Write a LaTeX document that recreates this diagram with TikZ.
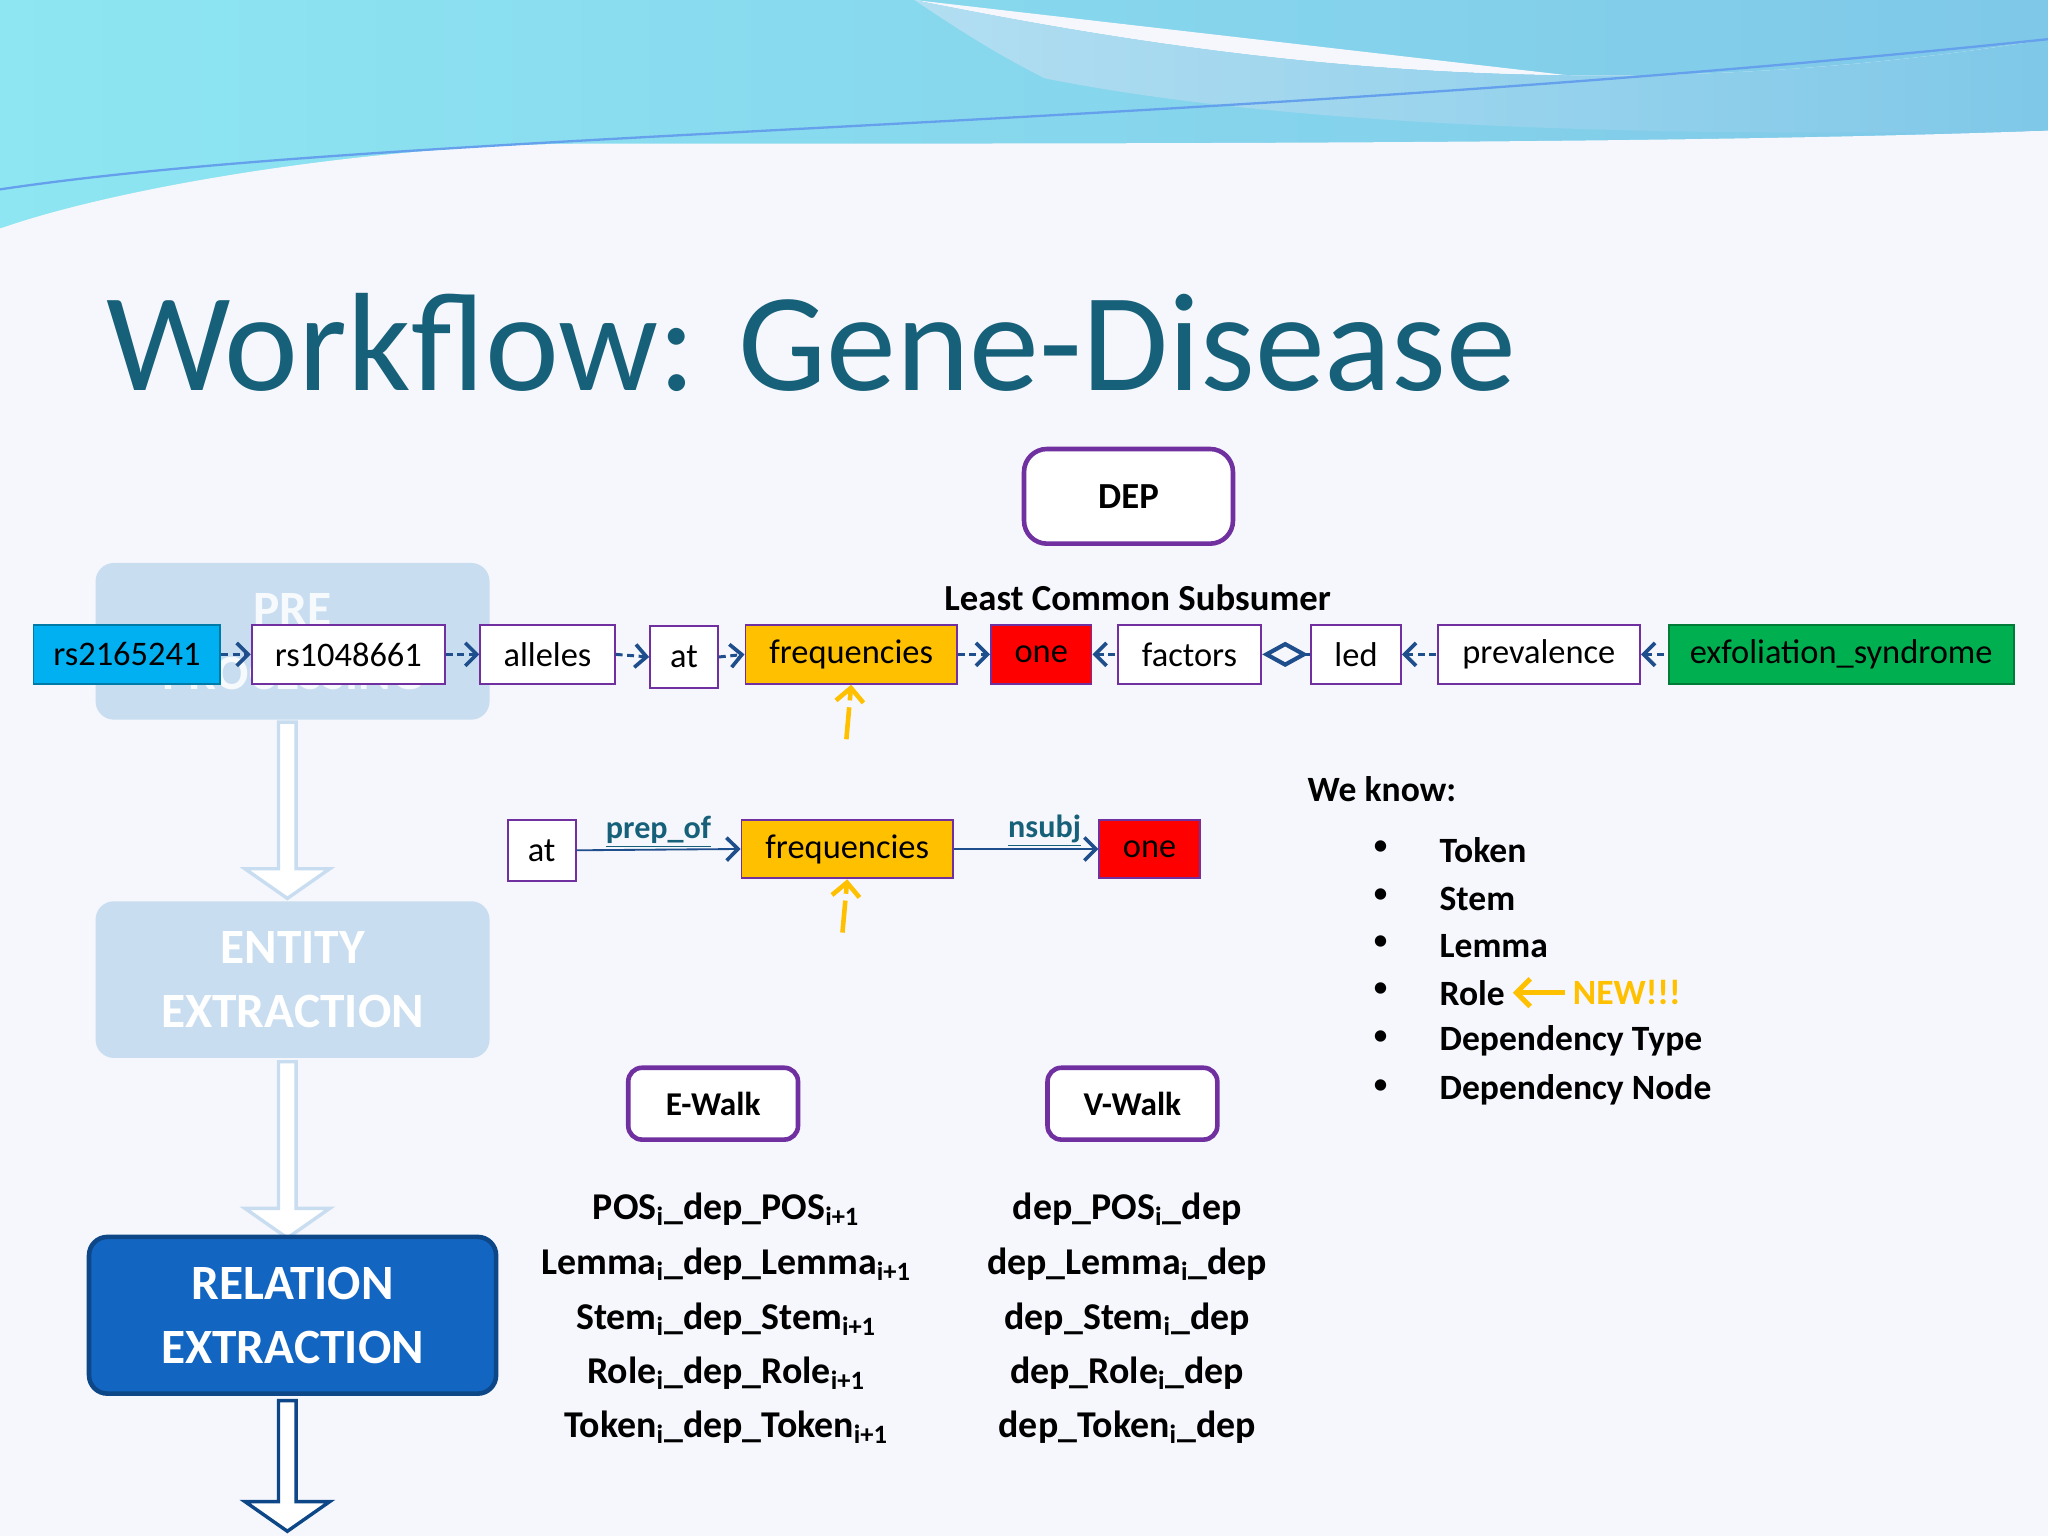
\documentclass[tikz,border=0pt]{standalone}
\usepackage{fontspec}
\setmainfont{Carlito}
\usetikzlibrary{arrows.meta,shapes.arrows}
\definecolor{ttl}{HTML}{17607A}
\definecolor{purp}{HTML}{7030A0}
\definecolor{arr}{HTML}{1F4E8C}
\definecolor{cy}{HTML}{00B0F0}
\definecolor{yel}{HTML}{FFC000}
\definecolor{gr}{HTML}{00B050}
\definecolor{faded}{HTML}{C9DDF0}
\definecolor{rel}{HTML}{1266C2}
\definecolor{wave1}{HTML}{8EE6F2}
\definecolor{wave2}{HTML}{7FC8E8}
\definecolor{bg}{HTML}{F6F7FC}
\begin{document}
\begin{tikzpicture}[x=0.02cm,y=-0.02cm,
  tok/.style={draw=purp,line width=0.8pt,fill=white,minimum height=0.9cm,inner sep=1pt,font=\fontsize{15}{16}\selectfont,anchor=west},
  lnk/.style={draw=arr,line width=1.3pt,dash pattern=on 3pt off 2pt,-{Straight Barb[length=5pt,width=10pt,line width=1.6pt]}},
  lnkb/.style={draw=arr,line width=1.3pt,dash pattern=on 3pt off 2pt,{Straight Barb[length=5pt,width=10pt,line width=1.6pt]}-},
  up/.style={draw=yel,line width=2pt,dash pattern=on 14pt off 3pt,-{Straight Barb[length=6pt,width=12pt]}},
  walk/.style={draw=purp,line width=2pt,rounded corners=6pt,fill=white,font=\bfseries\fontsize{14.5}{16}\selectfont},
  stage/.style={rounded corners=8pt,text width=5.8cm,align=center,font=\bfseries\fontsize{21.5}{28}\selectfont,text=white},
  hol/.style={single arrow,draw,line width=1.5pt,fill=white,shape border rotate=270,minimum width=1.3cm,single arrow head extend=0.1cm,single arrow tip angle=110,inner sep=0pt},
  bl/.style={font=\bfseries\fontsize{15.5}{17}\selectfont,anchor=west},
  fm/.style={font=\bfseries\fontsize{16.5}{18}\selectfont}]
\useasboundingbox (0,0) rectangle (1568,1176);
\fill[bg] (0,0) rectangle (1568,1176);
% top wave
\shade[left color=wave1,right color=wave2] (0,0) -- (1568,0) -- (1568,100) .. controls (1200,120) and (500,100) .. (0,175) -- cycle;
\fill[bg] (700,0) .. controls (900,40) and (1200,90) .. (1568,30) -- (1568,100) .. controls (1300,110) and (900,110) .. (450,110) .. controls (300,110) and (100,140) .. (0,175) -- (0,180) -- (1568,180) -- (1568,100);
\shade[left color=wave2!60,right color=wave2] (700,0) .. controls (900,40) and (1200,90) .. (1568,30) -- (1568,100) .. controls (1300,105) and (1000,100) .. (800,60) .. controls (760,40) and (730,20) .. (700,0);
\fill[bg] (0,180) rectangle (1568,200);
\draw[wave2!80!blue,line width=1pt] (0,145) .. controls (300,100) and (900,100) .. (1568,30);
% title
\node[anchor=west,text=ttl,font=\fontsize{61}{66}\selectfont] (title) at (75,262) {Workflow: Gene-Disease};
% left column
\node[stage,fill=faded,minimum height=2.4cm,text=white!85!faded] (pre) at (224,491) {PRE\\PROCESSING};
\node[hol,draw=faded,minimum height=2.7cm] (a1) at (220,618) {};
\node[stage,fill=faded,minimum height=2.4cm] (ent) at (224,750) {ENTITY\\EXTRACTION};
\node[hol,draw=faded,minimum height=2.7cm] (a2) at (220,878) {};
\node[stage,fill=rel,draw=rel!70!black,line width=2pt,minimum height=2.4cm,text width=6cm] (relx) at (224,1007) {RELATION\\EXTRACTION};
\node[hol,draw=rel!70!black,minimum height=2cm] (a3) at (220,1120) {};
% DEP
\node[walk,minimum width=3.2cm,minimum height=1.45cm,rounded corners=10pt,font=\bfseries\fontsize{16}{18}\selectfont] (dep) at (864,380) {DEP};
\node[font=\bfseries\fontsize{16}{18}\selectfont] (lcs) at (871,458) {Least Common Subsumer};
% row 1
\node[tok,fill=cy,draw=cy!70!black,minimum width=2.86cm] (t1) at (25,501) {rs2165241};
\node[tok,minimum width=2.96cm] (t2) at (192,501) {rs1048661};
\node[tok,minimum width=2.06cm] (t3) at (367,501) {alleles};
\node[tok,minimum width=1.04cm,minimum height=0.94cm] (t4) at (497,503) {at};
\node[tok,fill=yel,minimum width=3.24cm] (t5) at (570,501) {frequencies};
\node[tok,fill=red,minimum width=1.54cm] (t6) at (758,501) {one};
\node[tok,minimum width=2.2cm] (t7) at (855,501) {factors};
\node[tok,minimum width=1.38cm] (t8) at (1003,501) {led};
\node[tok,minimum width=3.1cm] (t9) at (1100,501) {prevalence};
\node[tok,fill=gr,draw=gr!70!black,minimum width=5.28cm] (t10) at (1277,501) {exfoliation\_syndrome};
\draw[lnk] (t1.east) -- (t2.west);
\draw[lnk] (t2.east) -- (t3.west);
\draw[lnk] (t3.east) -- (t4.west);
\draw[lnk] (t4.east) -- (t5.west);
\draw[lnk] (t5.east) -- (t6.west);
\draw[lnkb] (t6.east) -- (t7.west);
\draw[draw=arr,line width=1.5pt,{Diamond[open,length=20pt,width=11pt,line width=1.8pt]}-] (t7.east) -- (t8.west);
\draw[lnkb] (t8.east) -- (t9.west);
\draw[lnkb] (t9.east) -- (t10.west);
\coordinate (u1) at (648,566);
\draw[up] (u1) -- (t5.south);
% row 2
\node[tok,minimum width=1.04cm,minimum height=0.94cm] (s1) at (388,651) {at};
\node[tok,fill=yel,minimum width=3.24cm] (s2) at (567,650) {frequencies};
\node[tok,fill=red,minimum width=1.54cm] (s3) at (841,650) {one};
\draw[draw=arr,line width=0.8pt,-{Straight Barb[length=5pt,width=10pt,line width=1.6pt]}] (s1.east) -- node[above,text=ttl,font=\bfseries\fontsize{14}{15}\selectfont,yshift=-3]{\underline{prep\_of}} (s2.west);
\draw[draw=arr,line width=0.8pt,-{Straight Barb[length=5pt,width=10pt,line width=1.6pt]}] (s2.east) -- node[above,text=ttl,font=\bfseries\fontsize{14}{15}\selectfont,xshift=8,yshift=-3]{\underline{nsubj}} (s3.west);
\coordinate (u2) at (645,714);
\draw[up] (u2) -- (s2.south);
% we know
\node[bl] (wk) at (995,604) {We know:};
\foreach \y/\t [count=\i] in {651/Token,688/Stem,724/Lemma,760/Role,797/Dependency Type,834/Dependency Node}{
  \node[font=\fontsize{14}{17}\selectfont] (b\i) at (1057,\y-2) {•};
  \node[bl] (k\i) at (1096,\y) {\t};
}
\node[bl,text=yel] (new) at (1198,760) {NEW!!!};
\draw[draw=yel,line width=2.2pt,-{Straight Barb[length=6pt,width=12pt]}] (new.west) -- (k4.east);
% walks
\node[walk,minimum width=2.6cm,minimum height=1.1cm] (ew) at (546,845) {E-Walk};
\node[walk,minimum width=2.6cm,minimum height=1.1cm] (vw) at (867,845) {V-Walk};
\foreach \y/\w [count=\i] in {926/POS,968/Lemma,1010/Stem,1051/Role,1093/Token}{
  \node[fm] (e\i) at (556,\y) {\w\textsubscript{i}\_dep\_\w\textsubscript{i+1}};
  \node[fm] (v\i) at (863,\y) {dep\_\w\textsubscript{i}\_dep};
}
\end{tikzpicture}
\end{document}
